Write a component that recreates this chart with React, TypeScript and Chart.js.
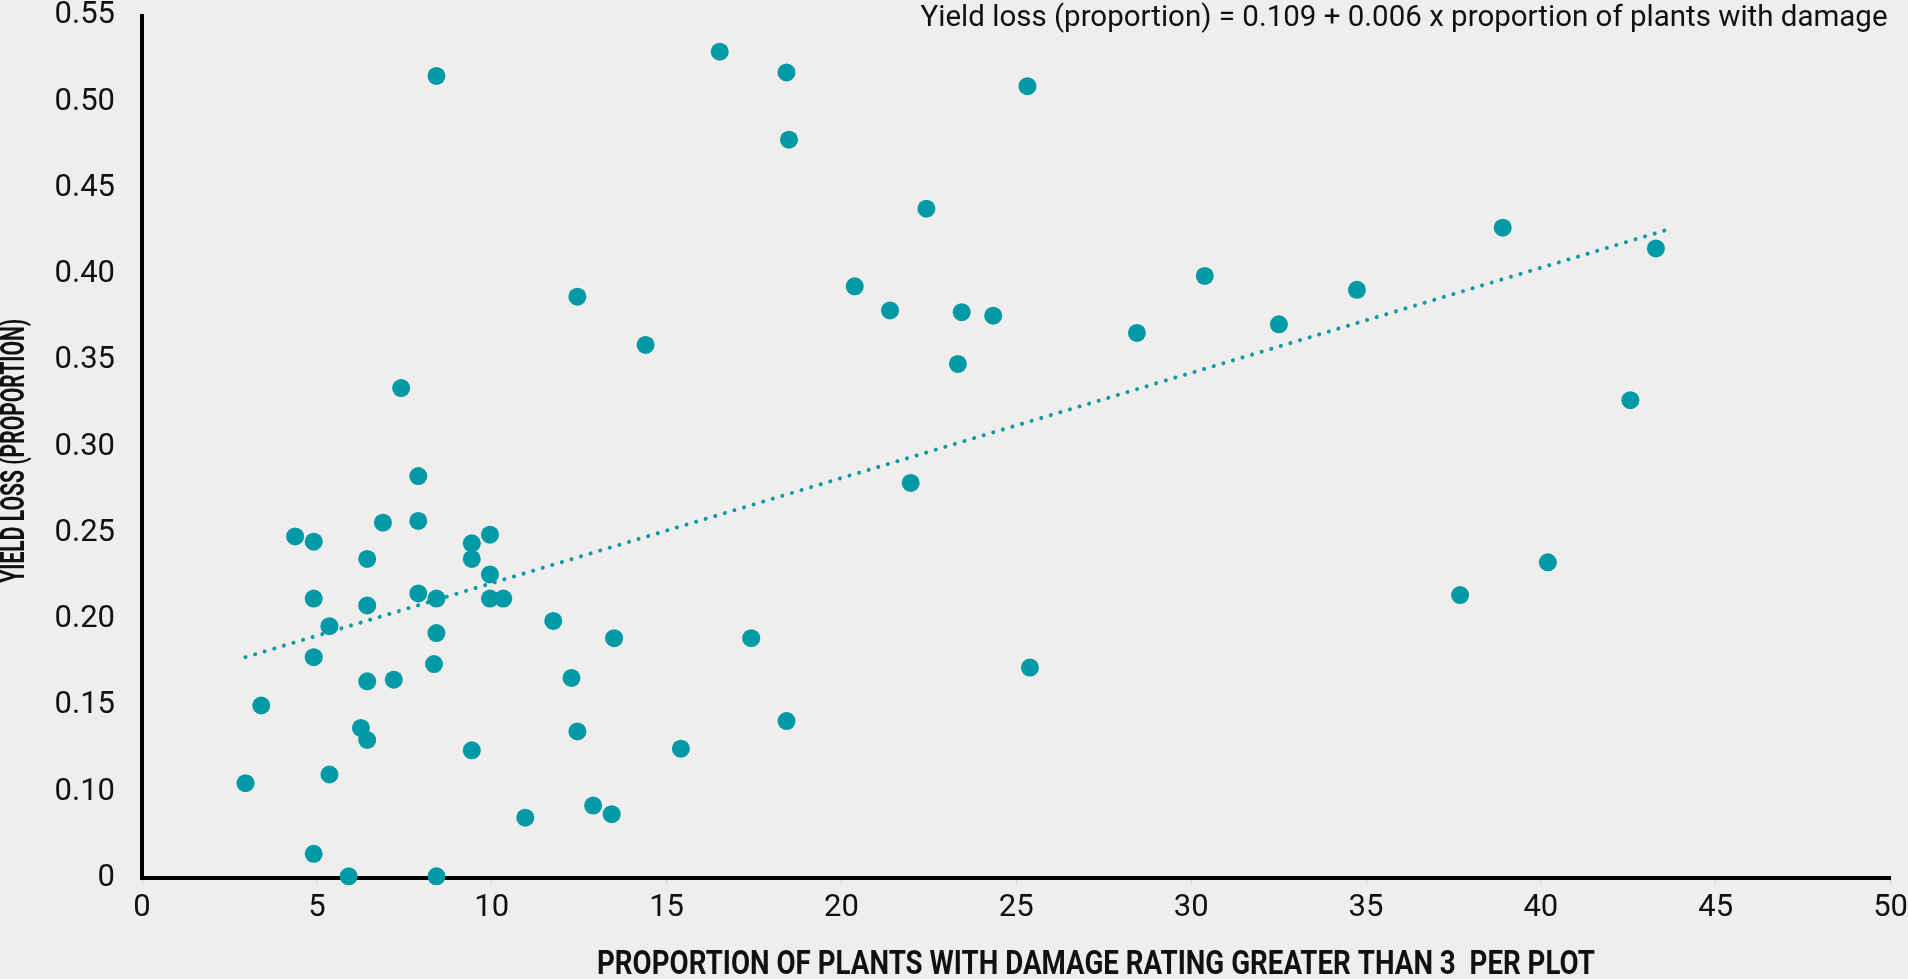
import React, { useEffect, useRef } from "react";
import { Chart, registerables } from "chart.js";

Chart.register(...registerables);

// ---- Data ----
const damageX = [
  2.96, 3.41, 4.38, 4.91, 4.91, 5.36, 4.91, 5.36, 4.91, 5.91,
  6.44, 6.44, 6.44, 6.26, 6.44, 6.89, 7.2, 7.41, 7.9, 7.9,
  7.9, 8.42, 8.42, 8.35, 8.42, 8.42, 9.43, 9.43, 9.43, 9.95,
  9.95, 9.95, 10.33, 10.96, 11.76, 12.28, 12.45, 12.45, 12.9, 13.43,
  13.5, 14.4, 15.41, 16.52, 17.42, 18.43, 18.5, 18.43, 20.38, 21.39,
  21.98, 22.43, 23.33, 23.44, 24.34, 25.32, 25.39, 28.45, 30.39, 32.51,
  34.74, 37.69, 38.91, 40.2, 42.56, 43.29,
];
const yieldLoss = [
  0.105, 0.15, 0.248, 0.245, 0.212, 0.196, 0.178, 0.11, 0.064, 0.051,
  0.235, 0.208, 0.164, 0.137, 0.13, 0.256, 0.165, 0.334, 0.283, 0.257,
  0.215, 0.212, 0.192, 0.174, 0.515, 0.051, 0.244, 0.235, 0.124, 0.249,
  0.226, 0.212, 0.212, 0.085, 0.199, 0.166, 0.387, 0.135, 0.092, 0.087,
  0.189, 0.359, 0.125, 0.529, 0.189, 0.517, 0.478, 0.141, 0.393, 0.379,
  0.279, 0.438, 0.348, 0.378, 0.376, 0.509, 0.172, 0.366, 0.399, 0.371,
  0.391, 0.214, 0.427, 0.233, 0.327, 0.415,
];
const trendX = [2.96, 43.65];
const trendY = [0.178, 0.426];

const xTickValues = [0, 5, 10, 15, 20, 25, 30, 35, 40, 45, 50];
const yTickValues = [0.05, 0.1, 0.15, 0.2, 0.25, 0.3, 0.35, 0.4, 0.45, 0.5, 0.55];
const yTickLabels = ["0", "0.10", "0.15", "0.20", "0.25", "0.30", "0.35", "0.40", "0.45", "0.50", "0.55"];

const equationText = "Yield loss (proportion) = 0.109 + 0.006 x proportion of plants with damage";
const xTitleText = "PROPORTION OF PLANTS WITH DAMAGE RATING GREATER THAN 3  PER PLOT";
const yTitleText = "YIELD LOSS (PROPORTION)";

const BG = "#f0eded";
const TEAL = "#009aa6";
const FONT = 'Roboto, "Liberation Sans", sans-serif';

// draw text horizontally scaled so that it spans a target width
function drawFitted(
  ctx: CanvasRenderingContext2D,
  text: string,
  x: number,
  y: number,
  font: string,
  targetWidth: number,
  align: "left" | "center" | "right",
  rotate: number
) {
  ctx.save();
  ctx.font = font;
  ctx.textBaseline = "middle";
  ctx.textAlign = align;
  const w = ctx.measureText(text).width;
  const sx = targetWidth / w;
  ctx.translate(x, y);
  ctx.rotate(rotate);
  ctx.scale(sx, 1);
  ctx.fillText(text, 0, 0);
  ctx.restore();
}

const textPlugin = {
  id: "extraText",
  afterDraw(chart: any) {
    const { ctx, chartArea } = chart;
    ctx.save();
    ctx.fillStyle = "#111";
    // Equation (top right)
    drawFitted(ctx, equationText, chartArea.right - 3, 18, `400 30px ${FONT}`, 967, "right", 0);
    // X axis title
    drawFitted(ctx, xTitleText, 1096, 966, `700 33px ${FONT}`, 998, "center", 0);
    // Y axis title
    const cy = (chartArea.top + chartArea.bottom) / 2 + 4;
    drawFitted(ctx, yTitleText, 16, cy, `700 33px ${FONT}`, 264, "center", -Math.PI / 2);
    ctx.restore();
  },
};

export default function App() {
  const canvasRef = useRef<HTMLCanvasElement | null>(null);

  useEffect(() => {
    document.body.style.margin = "0";
    const canvas = canvasRef.current;
    if (!canvas) return;
    const points = damageX.map((x, i) => ({ x, y: yieldLoss[i] }));
    const trend = trendX.map((x, i) => ({ x, y: trendY[i] }));

    const chart = new Chart(canvas, {
      type: "scatter",
      data: {
        datasets: [
          {
            type: "line",
            label: "Trend",
            data: trend,
            borderColor: TEAL,
            borderWidth: 4,
            borderDash: [0.01, 10],
            borderCapStyle: "round",
            pointRadius: 0,
            fill: false,
            order: 2,
          } as any,
          {
            label: "Plots",
            data: points,
            backgroundColor: TEAL,
            borderWidth: 0,
            pointRadius: 9,
            pointHoverRadius: 9,
            clip: false,
            order: 1,
          },
        ],
      },
      options: {
        animation: false,
        responsive: false,
        layout: { padding: { left: 0, right: 16, top: 15, bottom: 0 } },
        plugins: {
          legend: { display: false },
          tooltip: { enabled: false },
        },
        scales: {
          x: {
            type: "linear",
            min: 0,
            max: 50,
            afterBuildTicks: (scale: any) => {
              scale.ticks = xTickValues.map((v) => ({ value: v }));
            },
            afterFit: (scale: any) => {
              scale.height = 101;
            },
            grid: {
              display: true,
              drawOnChartArea: false,
              drawTicks: true,
              tickLength: 6,
              color: "#d6d2d2",
              lineWidth: 1,
            },
            border: { display: true, color: "#000", width: 4 },
            ticks: {
              color: "#111",
              padding: 0,
              maxRotation: 0,
              autoSkip: false,
              font: { family: FONT, size: 31, lineHeight: 1.55 },
            },
          },
          y: {
            type: "linear",
            min: 0.05,
            max: 0.55,
            afterBuildTicks: (scale: any) => {
              scale.ticks = yTickValues.map((v) => ({ value: v }));
            },
            afterFit: (scale: any) => {
              scale.width = 142;
            },
            grid: { display: false, drawTicks: true, tickLength: 27 },
            border: { display: true, color: "#000", width: 4 },
            ticks: {
              color: "#111",
              padding: 0,
              autoSkip: false,
              font: { family: FONT, size: 31, lineHeight: 1 },
              callback: (_v: any, i: number) => yTickLabels[i],
            },
          },
        },
      },
      plugins: [textPlugin],
    });
    return () => chart.destroy();
  }, []);

  return (
    <div
      style={{
        position: "fixed",
        left: 0,
        top: 0,
        width: 1908,
        height: 979,
        background: BG,
      }}
    >
      <canvas ref={canvasRef} width={1908} height={979} style={{ display: "block" }} />
    </div>
  );
}
